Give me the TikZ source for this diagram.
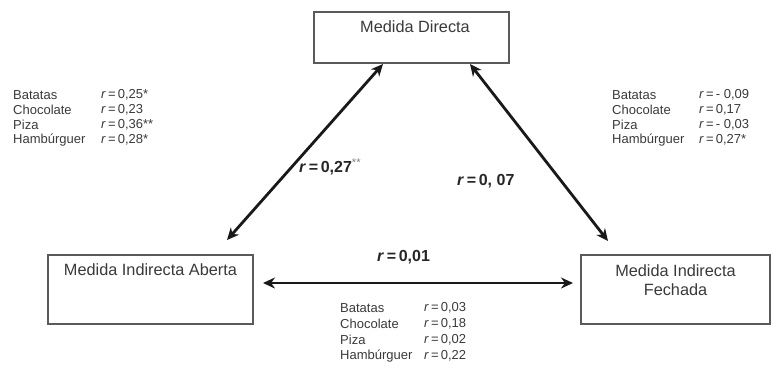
\documentclass[tikz,border=0pt]{standalone}
\usepackage{fontspec}
\setmainfont{Liberation Sans}
\usetikzlibrary{arrows.meta}
\definecolor{boxgray}{HTML}{5A5A5A}
\definecolor{txtgray}{HTML}{3A3A3A}
\tikzset{
  boxnode/.style={draw=boxgray, line width=1.3pt, fill=white, inner sep=0pt},
  boxtext/.style={font=\fontsize{16.3}{19.5}\selectfont, text=txtgray, align=center, inner sep=0pt},
  tabtext/.style={font=\fontsize{13}{15}\selectfont, text=txtgray, anchor=west, inner sep=0pt},
  rlabel/.style={font=\bfseries\fontsize{16}{19}\selectfont, text=black!85, anchor=west, inner sep=0pt},
  conn/.style={line width=2.8pt, black!90, {Stealth[length=12pt,width=11pt]}-{Stealth[length=12pt,width=11pt]}},
}
\newcommand{\rr}[1]{\textit{r}\,=\,#1}
\begin{document}
\begin{tikzpicture}[x=1pt,y=-1pt]
\useasboundingbox (0,0) rectangle (773,368);
% boxes
\node[boxnode, minimum width=195pt, minimum height=51pt] (D) at (411.5,37.5) {};
\node[boxnode, minimum width=205pt, minimum height=69pt] (A) at (150.5,289.5) {};
\node[boxnode, minimum width=189pt, minimum height=69pt] (F) at (675.5,289.5) {};
\node[boxtext] (Dt) at (415,27) {Medida Directa};
\node[boxtext] (At) at (150.5,270) {Medida Indirecta Aberta};
\node[boxtext] (Ft) at (675.5,280) {Medida Indirecta\\Fechada};
% arrow end points
\coordinate (d1) at (383,64);
\coordinate (a1) at (227,240);
\coordinate (d2) at (470,64);
\coordinate (f1) at (608,241);
\coordinate (a2) at (263,283);
\coordinate (f2) at (573,283);
\draw[conn] (d1) -- (a1);
\draw[conn] (d2) -- (f1);
\draw[conn] (a2) -- (f2);
% r labels
\node[rlabel] (r1) at (299,167) {\rr{0,27}\textsuperscript{\mdseries\textcolor{gray}{**}}};
\node[rlabel] (r2) at (457,181) {\rr{0, 07}};
\node[rlabel] (r3) at (377,257) {\rr{0,01}};
% left table
\node[tabtext] (l1) at (13,95) {Batatas};
\node[tabtext] (l2) at (13,110) {Chocolate};
\node[tabtext] (l3) at (13,125) {Piza};
\node[tabtext] (l4) at (13,140) {Hambúrguer};
\node[tabtext] (lv1) at (101,95) {\rr{0,25*}};
\node[tabtext] (lv2) at (101,110) {\rr{0,23}};
\node[tabtext] (lv3) at (101,125) {\rr{0,36**}};
\node[tabtext] (lv4) at (101,140) {\rr{0,28*}};
% right table
\node[tabtext] (q1) at (612,95) {Batatas};
\node[tabtext] (q2) at (612,110) {Chocolate};
\node[tabtext] (q3) at (612,125) {Piza};
\node[tabtext] (q4) at (612,140) {Hambúrguer};
\node[tabtext] (qv1) at (699,95) {\rr{- 0,09}};
\node[tabtext] (qv2) at (699,110) {\rr{0,17}};
\node[tabtext] (qv3) at (699,125) {\rr{- 0,03}};
\node[tabtext] (qv4) at (699,140) {\rr{0,27*}};
% bottom table
\node[tabtext] (b1) at (340,308) {Batatas};
\node[tabtext] (b2) at (340,324) {Chocolate};
\node[tabtext] (b3) at (340,340) {Piza};
\node[tabtext] (b4) at (340,356) {Hambúrguer};
\node[tabtext] (bv1) at (424,308) {\rr{0,03}};
\node[tabtext] (bv2) at (424,324) {\rr{0,18}};
\node[tabtext] (bv3) at (424,340) {\rr{0,02}};
\node[tabtext] (bv4) at (424,356) {\rr{0,22}};
\end{tikzpicture}
\end{document}
